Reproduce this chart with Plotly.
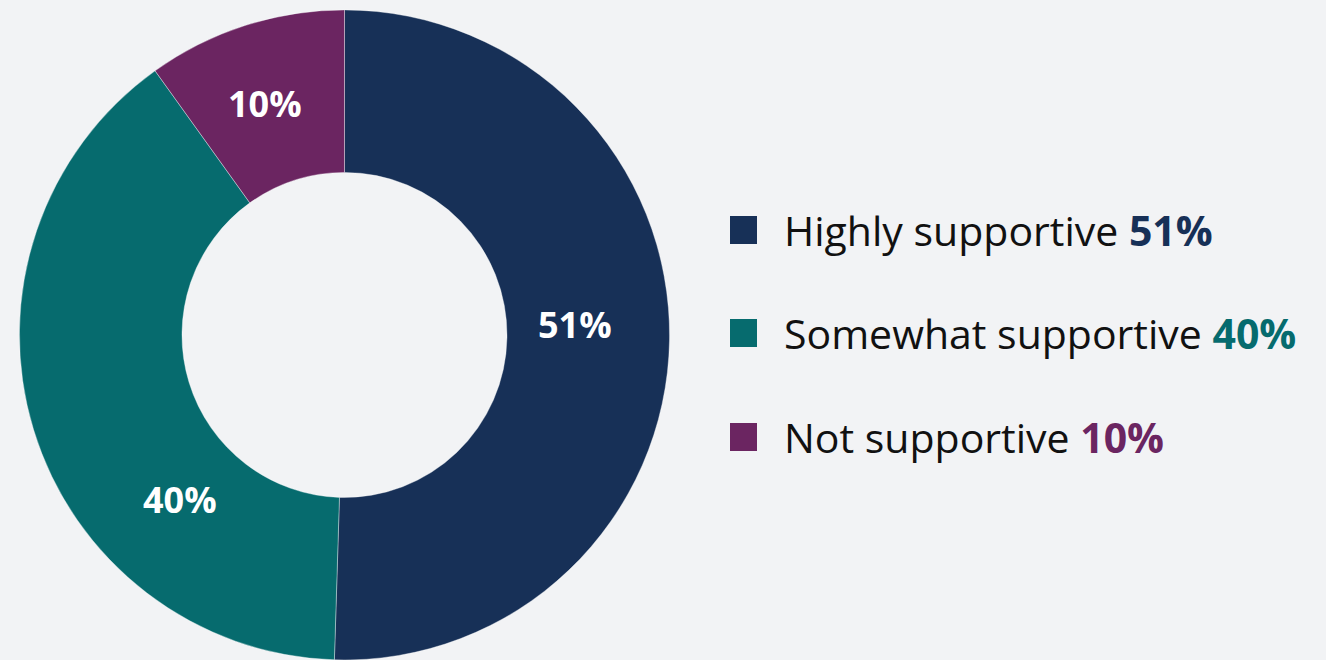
import math
import plotly.graph_objects as go

# ---- data ----
categories = ["Highly supportive", "Somewhat supportive", "Not supportive"]
values = [51, 40, 10]
value_labels = ["51%", "40%", "10%"]

# ---- styles ----
colors = ["#173057", "#066b6e", "#6b2561"]
bg = "#f2f3f5"
font_family = "Open Sans, Lato, DejaVu Sans, sans-serif"
label_angle_adjust = [-3.5, -28.0, -1.1]  # degrees, label placement tweak
label_radius = [231, 233, 245]            # px from centre

W, H = 1326, 660
dom_x = [0, 0.5196]
dom_y = [0, 0.985]

fig = go.Figure()
fig.add_trace(go.Pie(
    labels=categories,
    values=values,
    textinfo="none",
    hole=0.5,
    sort=False,
    direction="clockwise",
    rotation=0,
    marker=dict(colors=colors, line=dict(color="rgba(255,255,255,0.6)", width=0.6)),
    domain=dict(x=dom_x, y=dom_y),
    showlegend=False,
    hoverinfo="label+percent",
))

# slice labels placed from the cumulative values
cx = W * (dom_x[0] + dom_x[1]) / 2
cy = H * (1 - (dom_y[0] + dom_y[1]) / 2)
total = sum(values)
cum = 0
for i, (v, lab) in enumerate(zip(values, value_labels)):
    mid = (cum + v / 2) / total * 360 + label_angle_adjust[i]
    cum += v
    a = math.radians(mid)
    px = cx + label_radius[i] * math.sin(a)
    py = cy - label_radius[i] * math.cos(a)
    fig.add_annotation(
        xref="paper", yref="paper", x=px / W, y=1 - py / H,
        xanchor="center", yanchor="middle", showarrow=False,
        text=f"<b>{lab}</b>",
        font=dict(family=font_family, size=36, color="white"),
    )

# custom legend built from the same arrays
row_y_px = [230, 333, 437]
sq_x0, sq_x1, sq_half = 730, 757, 14
text_x = 782
for i, (cat, lab, col) in enumerate(zip(categories, value_labels, colors)):
    yc = row_y_px[i]
    fig.add_shape(type="rect", xref="paper", yref="paper",
                  x0=sq_x0 / W, x1=sq_x1 / W,
                  y0=1 - (yc + sq_half) / H, y1=1 - (yc - sq_half) / H,
                  fillcolor=col, line=dict(width=0))
    fig.add_annotation(
        xref="paper", yref="paper", x=text_x / W, y=1 - yc / H,
        xanchor="left", yanchor="middle", showarrow=False,
        text=f"{cat} <b><span style='color:{col}'>{lab}</span></b>",
        font=dict(family=font_family, size=41, color="#111111"),
    )

fig.update_layout(
    width=W, height=H,
    margin=dict(l=0, r=0, t=0, b=0),
    paper_bgcolor=bg, plot_bgcolor=bg,
)

fig.write_html("out.html", config={"displayModeBar": False},
               post_script="document.body.style.margin='0px';")
